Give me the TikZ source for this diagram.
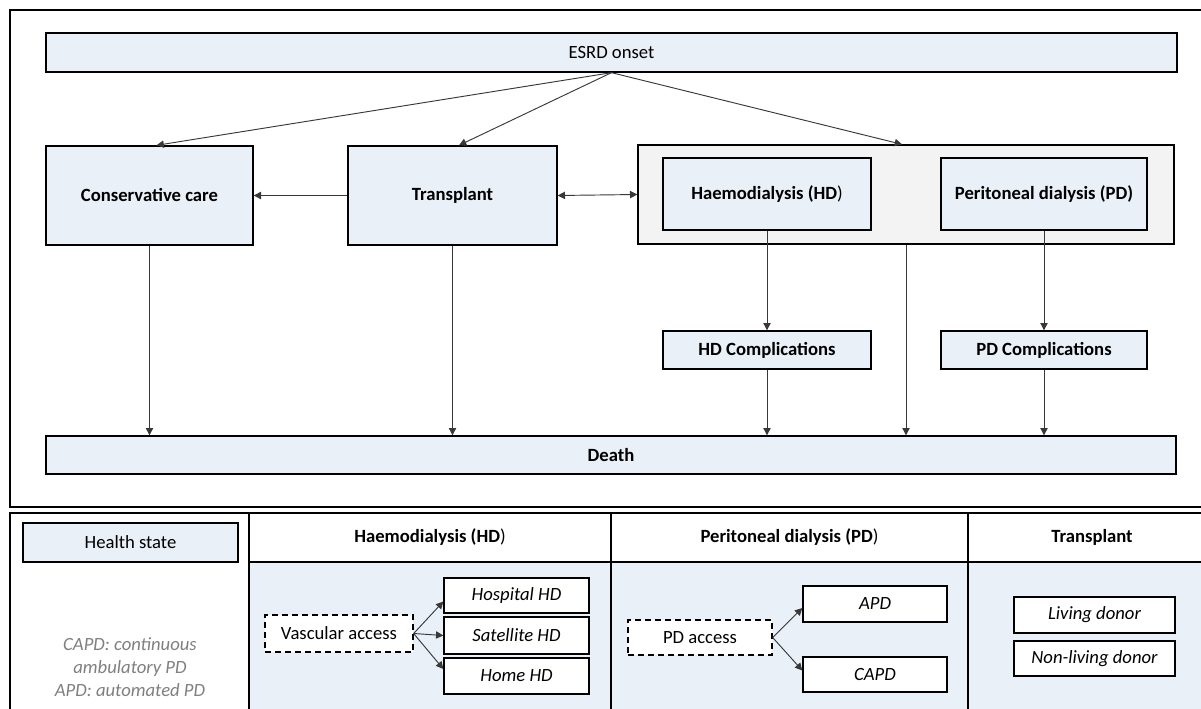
\documentclass[tikz,border=0pt]{standalone}
\usepackage{fontspec}
\setmainfont{Carlito}
\usetikzlibrary{arrows.meta,calc}
\definecolor{hsblue}{HTML}{E9F0F8}
\definecolor{contgray}{HTML}{F3F3F3}
\definecolor{notegray}{HTML}{808080}
\definecolor{linegray}{HTML}{383838}
\begin{document}
\begin{tikzpicture}[x=0.75pt,y=-0.75pt,
 sz/.style 2 args={minimum width=#1*0.75pt, minimum height=#2*0.75pt},
 state/.style={draw=black, line width=1pt, fill=hsblue, inner sep=0pt, font=\fontsize{14}{17}\selectfont\bfseries},
 optbox/.style={draw=black, line width=1pt, fill=white, inner sep=0pt, font=\fontsize{14}{17}\selectfont\itshape},
 accbox/.style={draw=black, line width=1pt, dash pattern=on 4.5pt off 3pt, fill=white, inner sep=0pt, font=\fontsize{14}{17}\selectfont},
 arr/.style={draw=linegray, line width=0.7pt, -{Triangle[length=5.5pt,width=5.5pt]}},
 biarr/.style={draw=linegray, line width=0.7pt, {Triangle[length=5.5pt,width=5.5pt]}-{Triangle[length=5.5pt,width=5.5pt]}},
 frameline/.style={draw=black, line width=1.3pt},
 hdr/.style={font=\fontsize{14}{17}\selectfont\bfseries},
 ]
\useasboundingbox (0,0) rectangle (1201,709);
\fill[white] (0,0) rectangle (1201,709);

% upper frame
\draw[frameline] (1201,10) -- (10,10) -- (10,507) -- (1201,507);

% main states
\node[state, font=\fontsize{14}{17}\selectfont, sz={1131}{39}] (esrd) at (611.5,52.5) {ESRD onset};
\node[state, sz={207}{99}] (cons) at (149.5,195.5) {Conservative care};
\node[state, sz={209}{99}] (trans) at (452.5,195.5) {Transplant};
\node[draw=black, line width=1pt, fill=contgray, inner sep=0pt, sz={536}{99}] (dial) at (906,194.5) {};
\node[state, sz={208}{72}] (hd) at (767,194) {Haemodialysis (HD{\mdseries)}};
\node[state, sz={206}{72}] (pd) at (1044,194) {Peritoneal dialysis (PD)};
\node[state, sz={208}{38}] (hdc) at (767,350) {HD Complications};
\node[state, sz={206}{38}] (pdc) at (1044,350) {PD Complications};
\node[state, sz={1130}{38}] (death) at (611,455) {Death};

% connectors
\draw[arr] (esrd.south) -- ($(cons.north)+(7,0)$);
\draw[arr] (esrd.south) -- ($(trans.north)+(6.5,0)$);
\draw[arr] (esrd.south) -- ($(dial.north)+(-4,0)$);
\draw[arr] (trans.west) -- (cons.east);
\draw[biarr] (trans.east) -- (dial.west);
\draw[arr] (cons.south) -- (cons.south |- death.north);
\draw[arr] (trans.south) -- (trans.south |- death.north);
\draw[arr] (hd.south) -- (hdc.north);
\draw[arr] (hdc.south) -- (hdc.south |- death.north);
\draw[arr] (dial.south) -- (dial.south |- death.north);
\draw[arr] (pd.south) -- (pdc.north);
\draw[arr] (pdc.south) -- (pdc.south |- death.north);

% legend table
\fill[hsblue] (249,562) rectangle (1201,709);
\draw[frameline] (1201,513) -- (10,513) -- (10,709);
\draw[line width=1pt] (249,513) -- (249,709);
\draw[line width=1pt] (611,513) -- (611,709);
\draw[line width=1pt] (968,513) -- (968,709);
\draw[line width=1pt] (249,562) -- (1201,562);

\node[state, font=\fontsize{14}{17}\selectfont, sz={215}{39}] (hs) at (130.5,542.5) {Health state};
\node[font=\fontsize{14}{17}\selectfont\itshape, text=notegray, align=center] (note) at (130,667) {CAPD: continuous\\ambulatory PD\\APD: automated PD};

\node[hdr] (h1) at (430,537) {Haemodialysis (HD{\mdseries)}};
\node[hdr] (h2) at (789.5,537) {Peritoneal dialysis (PD{\mdseries)}};
\node[hdr] (h3) at (1092,537) {Transplant};

\node[accbox, sz={148}{37}] (vasc) at (339,633.5) {Vascular access};
\node[optbox, sz={145}{35}] (hosp) at (516.5,595.5) {Hospital HD};
\node[optbox, sz={145}{37}] (sat) at (516.5,635.5) {Satellite HD};
\node[optbox, sz={145}{36}] (home) at (516.5,676) {Home HD};
\draw[arr] (vasc.east) -- ($(hosp.west)+(0,6)$);
\draw[arr] (vasc.east) -- (sat.west);
\draw[arr] (vasc.east) -- ($(home.west)+(0,-7)$);

\node[accbox, sz={144}{35}] (pdacc) at (700,637.5) {PD access};
\node[optbox, sz={144}{36}] (apd) at (875,604) {APD};
\node[optbox, sz={144}{35}] (capd) at (875,674.5) {CAPD};
\draw[arr] (pdacc.east) -- ($(apd.west)+(0,4)$);
\draw[arr] (pdacc.east) -- ($(capd.west)+(0,-4)$);

\node[optbox, sz={161}{36}] (live) at (1094.5,615) {Living donor};
\node[optbox, sz={161}{35}] (nonlive) at (1094.5,658.5) {Non-living donor};
\end{tikzpicture}
\end{document}
